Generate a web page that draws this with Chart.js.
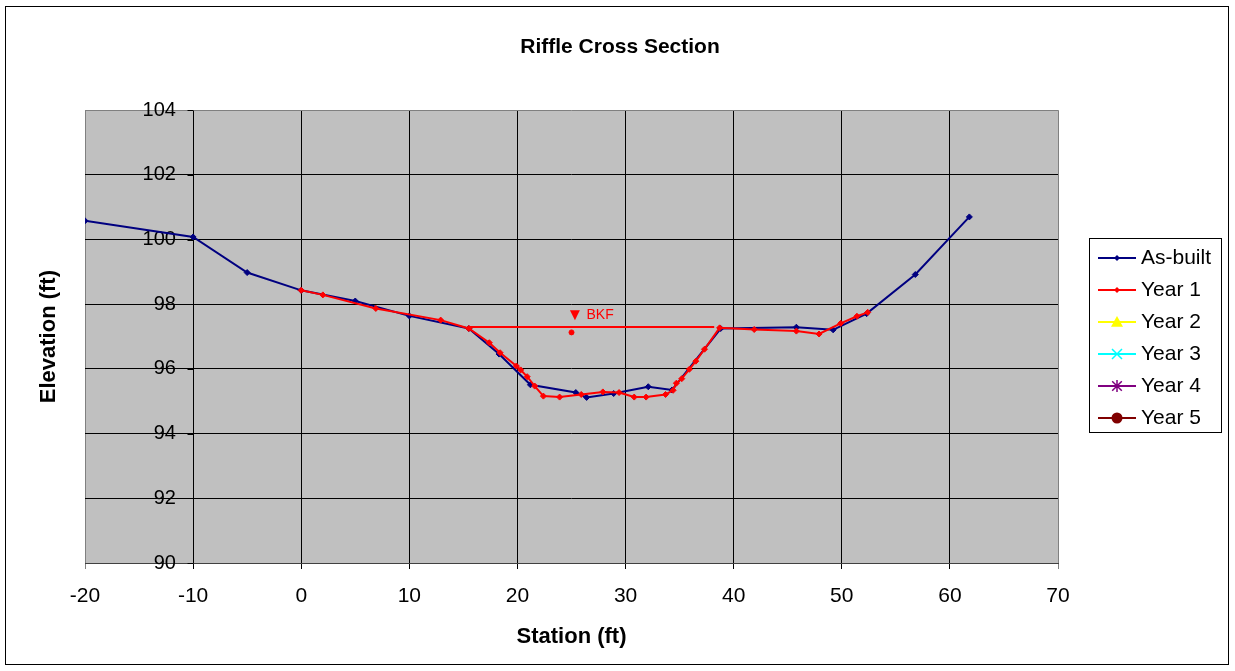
<!DOCTYPE html>
<html><head><meta charset="utf-8">
<script src="https://cdn.jsdelivr.net/npm/chart.js@4/dist/chart.umd.min.js"></script>
<style>html,body{margin:0;padding:0;background:#fff}canvas{display:block}</style>
</head><body>
<canvas id="c" width="1235" height="671"></canvas>
<script>
const FONT = '"Liberation Sans", Arial, Helvetica, sans-serif';

// ---- data ----
const chartTitle = 'Riffle Cross Section';
const xTitle = 'Station (ft)';
const yTitle = 'Elevation (ft)';
const xTicks = [-20, -10, 0, 10, 20, 30, 40, 50, 60, 70];
const yTicks = [90, 92, 94, 96, 98, 100, 102, 104];
const seriesNames = ['As-built', 'Year 1', 'Year 2', 'Year 3', 'Year 4', 'Year 5'];

const asBuiltStation = [-20, -10, -5, 0, 5, 10, 15.5, 18.3, 21.2, 25.4, 26.4, 28.9, 32.1, 34.3, 38.8, 45.8, 49.2, 52.3, 56.8, 61.8];
const asBuiltElev    = [100.58, 100.08, 98.98, 98.43, 98.10, 97.64, 97.25, 96.46, 95.51, 95.27, 95.12, 95.24, 95.45, 95.35, 97.25, 97.29, 97.21, 97.71, 98.92, 100.70];

const year1Station = [0, 2.0, 6.9, 12.9, 15.5, 17.4, 18.4, 19.9, 20.3, 20.9, 21.6, 22.4, 23.9, 25.9, 27.9, 29.4, 30.8, 31.9, 33.7, 34.4, 34.7, 35.2, 35.9, 36.5, 37.3, 38.7, 41.9, 45.8, 47.9, 49.9, 51.4, 52.4];
const year1Elev    = [98.43, 98.29, 97.87, 97.51, 97.25, 96.81, 96.50, 96.09, 95.97, 95.76, 95.47, 95.16, 95.13, 95.21, 95.29, 95.27, 95.13, 95.13, 95.21, 95.34, 95.56, 95.70, 95.99, 96.24, 96.61, 97.27, 97.22, 97.17, 97.08, 97.41, 97.63, 97.75];

const year2Station = [], year2Elev = [];
const year3Station = [], year3Elev = [];
const year4Station = [], year4Elev = [];
const year5Station = [], year5Elev = [];

const bkfLineStation = [15.5, 38.2];
const bkfLineElev    = [97.30, 97.30];
const bkfMarkStation = [25.0];
const bkfMarkElev    = [97.13];
const bkfSymbol = '\u25BC';
const bkfLabel = 'BKF';

// ---- helpers ----
const pts = (xs, ys) => xs.map((x, i) => ({x: x, y: ys[i]}));

function drawMarker(ctx, style, x, y, r, color) {
  ctx.save();
  ctx.fillStyle = color; ctx.strokeStyle = color; ctx.lineWidth = 1.5;
  ctx.beginPath();
  if (style === 'rectRot') {
    ctx.moveTo(x, y - r); ctx.lineTo(x + r, y); ctx.lineTo(x, y + r); ctx.lineTo(x - r, y); ctx.closePath(); ctx.fill();
  } else if (style === 'triangle') {
    ctx.moveTo(x, y - r); ctx.lineTo(x + r, y + r * 0.8); ctx.lineTo(x - r, y + r * 0.8); ctx.closePath(); ctx.fill();
  } else if (style === 'crossRot') {
    ctx.moveTo(x - r, y - r); ctx.lineTo(x + r, y + r); ctx.moveTo(x + r, y - r); ctx.lineTo(x - r, y + r); ctx.stroke();
  } else if (style === 'star') {
    ctx.moveTo(x, y - r); ctx.lineTo(x, y + r);
    const d = r * 0.8;
    ctx.moveTo(x - d, y - d); ctx.lineTo(x + d, y + d); ctx.moveTo(x + d, y - d); ctx.lineTo(x - d, y + d); ctx.stroke();
  } else {
    ctx.arc(x, y, r, 0, Math.PI * 2); ctx.fill();
  }
  ctx.restore();
}

const frame = {
  id: 'frame',
  beforeDraw(chart) {
    const {ctx, chartArea: a} = chart;
    ctx.save();
    ctx.fillStyle = '#fff'; ctx.fillRect(0, 0, chart.width, chart.height);
    ctx.fillStyle = '#C0C0C0'; ctx.fillRect(a.left, a.top, a.right - a.left, a.bottom - a.top);
    ctx.strokeStyle = '#000'; ctx.lineWidth = 1;
    ctx.strokeRect(5.5, 6.5, chart.width - 12, chart.height - 13);
    ctx.restore();
  },
  beforeDatasetsDraw(chart) {
    const {ctx, scales: {x, y}} = chart;
    const ax = Math.round(x.getPixelForValue(-10)) + 0.5;
    ctx.save();
    ctx.strokeStyle = '#000'; ctx.lineWidth = 1;
    ctx.beginPath();
    y.ticks.forEach(t => {
      const py = Math.round(y.getPixelForValue(t.value)) + 0.5;
      ctx.moveTo(ax - 6, py); ctx.lineTo(ax, py);
    });
    ctx.stroke();
    ctx.restore();
  },
  afterDatasetsDraw(chart) {
    const {ctx, scales: {x, y}} = chart;
    const px = x.getPixelForValue(bkfMarkStation[0]);
    const py = y.getPixelForValue(bkfMarkElev[0]);
    ctx.save();
    ctx.fillStyle = '#FF0000';
    ctx.textAlign = 'left'; ctx.textBaseline = 'middle';
    ctx.font = '17px ' + FONT;
    ctx.fillText(bkfSymbol, px - 5, py - 17);
    ctx.font = '14px ' + FONT;
    ctx.fillText(bkfLabel, px + 15, py - 17);
    ctx.restore();
  }
};

const xlLegend = {
  id: 'xlLegend',
  afterDraw(chart, args, o) {
    const ctx = chart.ctx;
    ctx.save();
    ctx.strokeStyle = '#000'; ctx.lineWidth = 1;
    ctx.strokeRect(o.left + 0.5, o.top + 0.5, o.width, o.height);
    const items = chart.data.datasets.filter(d => d.inLegend);
    items.forEach((d, i) => {
      const y = o.firstRow + i * o.rowGap;
      ctx.strokeStyle = d.borderColor; ctx.lineWidth = 2;
      ctx.beginPath(); ctx.moveTo(o.lineX0, y); ctx.lineTo(o.lineX1, y); ctx.stroke();
      drawMarker(ctx, d.pointStyle, (o.lineX0 + o.lineX1) / 2, y, d.legendMarker, d.pointBackgroundColor);
      ctx.fillStyle = '#000';
      ctx.font = '21px ' + FONT;
      ctx.textAlign = 'left'; ctx.textBaseline = 'middle';
      ctx.fillText(d.label, o.textX, y);
    });
    ctx.restore();
  }
};

const mk = (label, xs, ys, color, style, r, lr, order) => ({
  label: label, data: pts(xs, ys), inLegend: true, legendMarker: lr,
  borderColor: color, backgroundColor: color, pointBackgroundColor: color, pointBorderColor: color,
  pointStyle: style, pointRadius: r, pointBorderWidth: 1, borderWidth: 2, showLine: true, tension: 0,
  yAxisID: 'y', order: order
});

const datasets = [
  mk(seriesNames[0], asBuiltStation, asBuiltElev, '#000080', 'rectRot', 3, 3, 2),
  mk(seriesNames[1], year1Station, year1Elev, '#FF0000', 'rectRot', 3, 3, 1),
  mk(seriesNames[2], year2Station, year2Elev, '#FFFF00', 'triangle', 5, 6, 3),
  mk(seriesNames[3], year3Station, year3Elev, '#00FFFF', 'crossRot', 5, 5, 3),
  mk(seriesNames[4], year4Station, year4Elev, '#800080', 'star', 5, 6, 3),
  mk(seriesNames[5], year5Station, year5Elev, '#800000', 'circle', 5, 5.5, 3),
  {label: 'BKF', data: pts(bkfLineStation, bkfLineElev), borderColor: '#FF0000', borderWidth: 2,
   pointRadius: 0, showLine: true, yAxisID: 'y', order: 0},
  {label: 'BKF point', data: pts(bkfMarkStation, bkfMarkElev), borderColor: '#FF0000', backgroundColor: '#FF0000',
   pointStyle: 'circle', pointRadius: 2.5, showLine: false, yAxisID: 'y', order: 0}
];

const edgeGrid = (v, lo, hi) => (v === lo || v === hi) ? '#808080' : '#000000';

new Chart(document.getElementById('c'), {
  type: 'scatter',
  data: {datasets: datasets},
  plugins: [frame, xlLegend],
  options: {
    responsive: false, animation: false, devicePixelRatio: 1,
    layout: {padding: {left: 5, right: 0, top: 0, bottom: 0}},
    plugins: {
      legend: {display: false},
      tooltip: {enabled: false},
      title: {display: true, text: chartTitle, color: '#000',
              font: {family: FONT, size: 21, weight: 'bold'},
              padding: {top: 35, bottom: 50}},
      xlLegend: {left: 1089, top: 238, width: 132, height: 194, firstRow: 258, rowGap: 32,
                 lineX0: 1098, lineX1: 1136, textX: 1141}
    },
    scales: {
      x: {
        type: 'linear', position: 'bottom', min: -20, max: 70,
        afterBuildTicks: s => { s.ticks = xTicks.map(v => ({value: v})); },
        afterFit: s => { s.height = 108; },
        grid: {color: c => edgeGrid(c.tick && c.tick.value, -20, 70), lineWidth: 1, drawTicks: true, tickLength: 6},
        border: {display: true, color: '#404040', width: 1},
        ticks: {color: '#000', font: {family: FONT, size: 21}, padding: 15, autoSkip: false, maxRotation: 0},
        title: {display: true, text: xTitle, color: '#000', font: {family: FONT, size: 22, weight: 'bold'},
                padding: {top: 0, bottom: 21}}
      },
      y: {
        type: 'linear', position: 'left', min: 90, max: 104,
        afterBuildTicks: s => { s.ticks = yTicks.map(v => ({value: v})); },
        afterFit: s => { s.width = 80; },
        grid: {color: c => edgeGrid(c.tick && c.tick.value, 90, 104), lineWidth: 1, drawTicks: false},
        border: {display: false},
        ticks: {color: '#000', font: {family: FONT, size: 20}, mirror: true, crossAlign: 'far', padding: 57.6},
        title: {display: true, text: yTitle, color: '#000', font: {family: FONT, size: 22, weight: 'bold'},
                padding: {top: 31, bottom: 0}}
      },
      y2: {
        type: 'linear', position: 'right', display: true,
        afterFit: s => { s.width = 177; },
        grid: {display: false, drawTicks: false}, border: {display: false},
        ticks: {display: false}
      }
    }
  }
});
</script>
</body></html>
